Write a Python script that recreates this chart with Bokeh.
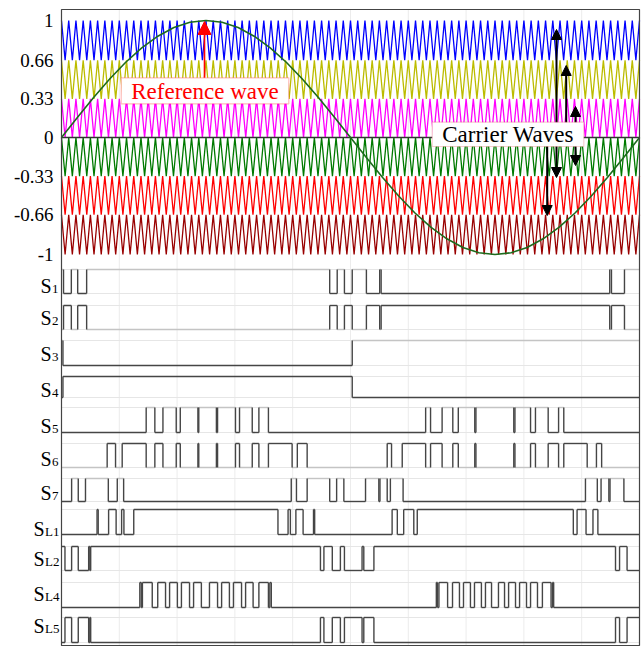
from bokeh.plotting import figure
from bokeh.models import Range1d, Label, Arrow, NormalHead, BoxAnnotation
from bokeh.core.properties import value
from bokeh.embed import file_html
from bokeh.resources import INLINE

# ---------------- data ----------------
period_ms = 20.0
carrier_periods = 80
carrier_bands = [(0.66, 1.0), (0.33, 0.66), (0.0, 0.33),
                 (-0.33, 0.0), (-0.66, -0.33), (-1.0, -0.66)]
carrier_colors = ["#0000ff", "#bcbc00", "#ff00ff", "#007a00", "#ff0000", "#990000"]

ref_deg = list(range(0, 361, 10))
ref_values = [0.0, 0.174, 0.342, 0.5, 0.643, 0.766, 0.866, 0.940, 0.985, 1.0,
              0.985, 0.940, 0.866, 0.766, 0.643, 0.5, 0.342, 0.174, 0.0,
              -0.174, -0.342, -0.5, -0.643, -0.766, -0.866, -0.940, -0.985, -1.0,
              -0.985, -0.940, -0.866, -0.766, -0.643, -0.5, -0.342, -0.174, 0.0]

y_ticks = [1, 0.66, 0.33, 0, -0.33, -0.66, -1]
y_tick_labels = ["1", "0.66", "0.33", "0", "-0.33", "-0.66", "-1"]
grid_ticks = [2, 4, 6, 8, 10, 12, 14, 16, 18]

# switching signals: initial state and switching instants (ms)
s1_init = 1
s1_edges = [0.07, 0.34, 0.56, 0.87, 9.28, 9.54, 9.79, 10.06, 10.55, 11.01, 11.06,
            18.97, 19.03, 19.48]
s2_init = 0
s2_edges = [0.07, 0.34, 0.56, 0.87, 9.28, 9.54, 9.79, 10.06, 10.55, 11.01, 11.06,
            18.97, 19.03, 19.48]
s3_init = 1
s3_edges = [0.05, 10.06]
s4_init = 0
s4_edges = [0.05, 10.06]
s5_init = 0
s5_edges = [2.93, 3.23, 3.51, 3.97, 4.11, 4.72, 4.75, 5.36, 5.40, 6.02, 6.16, 6.60, 6.83, 7.16,
            12.60, 12.77, 13.17, 13.54, 13.73, 14.30, 14.34, 15.65, 15.69, 16.23, 16.40,
            16.84, 17.20, 17.38]
s6_init = 0
s6_edges = [1.58, 1.87, 2.10, 2.93, 3.23, 3.51, 3.97, 4.11, 4.72, 4.75, 5.36, 5.40, 6.02,
            6.16, 6.60, 6.83, 7.16, 7.98, 8.16, 8.50,
            11.27, 11.42, 11.79, 12.60, 12.77, 13.17, 13.54, 13.73, 14.30, 14.34, 15.65,
            15.69, 16.23, 16.40, 16.84, 17.20, 17.38, 18.19, 18.51, 18.69]
s7_init = 0
s7_edges = [0.35, 0.58, 0.83, 1.62, 1.93, 2.15, 7.95, 8.13, 8.50, 9.28, 9.52, 9.77, 10.52,
            10.98, 11.02, 11.27, 11.38, 11.82, 18.13, 18.54, 18.67, 18.94, 18.98, 19.46]
sl1_init = 0
sl1_edges = [1.23, 1.27, 1.63, 1.89, 2.08, 2.16, 2.50, 7.49, 7.84, 7.92, 8.11, 8.36, 8.72,
             8.76, 11.44, 11.62, 11.84, 12.19, 12.31, 17.71, 17.84, 18.15, 18.39, 18.56]
sl2_init = 1
sl2_edges = [0.12, 0.35, 0.58, 0.94, 0.98, 1.01, 8.96, 9.08, 9.37, 9.65, 9.79, 10.40, 10.46,
             10.81, 19.17, 19.31, 19.57]
sl4_init = 0
sl4_edges = [2.71, 2.76, 2.80, 3.14, 3.33, 3.60, 3.74, 4.01, 4.15, 4.43, 4.57, 4.84, 5.12,
             5.40, 5.54, 5.81, 5.95, 6.23, 6.37, 6.63, 6.83, 7.16, 7.21, 7.26,
             12.97, 13.01, 13.06, 13.36, 13.53, 13.77, 13.91, 14.15, 14.29, 14.53, 14.67,
             14.88, 15.12, 15.33, 15.47, 15.71, 15.85, 16.09, 16.23, 16.47, 16.64, 16.94,
             16.99, 17.03]
sl5_init = 0
sl5_edges = [0.12, 0.35, 0.58, 0.94, 0.98, 1.01, 8.96, 9.08, 9.37, 9.65, 9.79, 10.40, 10.46,
             10.81, 19.17, 19.31, 19.57]

signal_main = ["S"] * 11
signal_sub = ["1", "2", "3", "4", "5", "6", "7", "L1", "L2", "L4", "L5"]
signals = [(s1_init, s1_edges), (s2_init, s2_edges), (s3_init, s3_edges), (s4_init, s4_edges),
           (s5_init, s5_edges), (s6_init, s6_edges), (s7_init, s7_edges),
           (sl1_init, sl1_edges), (sl2_init, sl2_edges), (sl4_init, sl4_edges),
           (sl5_init, sl5_edges)]

# ---------------- layout / style ----------------
W, H = 643, 646
FL, FR, FT, FB = 61, 639, 9, 645          # box edges in pixels
Y0_PX, Y_SCALE = 137.0, 117.0             # pixel row of value 0, pixels per unit

def vy(py):
    return (Y0_PX - py) / Y_SCALE

def tx(px):
    return (px - FL) * period_ms / (FR - FL)

row_high_px = [269, 305, 340, 376, 407, 443, 478, 509, 546, 582, 617]
row_low_px = [293, 329, 365, 397, 432, 467, 501, 534, 570, 607, 642]
light_high = [True, False, True, False, True, False, True, False, False, False, False]
light_low = [False, True, False, False, False, True, False, False, False, False, False]
label_base_px = [285, 317, 353, 389, 425, 458, 492, 528, 558, 593, 625]
label_left_px = [40, 40, 40, 40, 40, 40, 40, 33, 33, 33, 33]

FONT = "Liberation Serif"
DARK = "#454545"
LIGHT = "#c4c4c4"

p = figure(width=W, height=H, output_backend="svg", toolbar_location=None,
           x_range=Range1d(tx(0), tx(W)), y_range=Range1d(vy(H), vy(0)),
           x_axis_location=None, y_axis_location=None, min_border=0)
p.outline_line_color = None
p.background_fill_color = "white"
p.border_fill_color = "white"
p.xgrid.visible = False
p.ygrid.visible = False

x_left, x_right = tx(FL), tx(FR)
y_top, y_bot = vy(FT), vy(FB)

# faint vertical grid
p.segment(x0=grid_ticks, x1=grid_ticks, y0=[y_bot] * len(grid_ticks),
          y1=[y_top] * len(grid_ticks), line_color="#ececec", line_width=1)

# faint row boundaries
sep_y = [vy(v) for v in row_high_px + row_low_px]
p.segment(x0=[x_left] * len(sep_y), x1=[x_right] * len(sep_y), y0=sep_y, y1=sep_y,
          line_color="#e6e6e6", line_width=1)

# carriers (triangles between band limits)
n_vert = 2 * carrier_periods + 1
tv = [period_ms * k / (2 * carrier_periods) for k in range(n_vert)]
for (lo, hi), col in zip(carrier_bands, carrier_colors):
    yv = [hi if k % 2 == 0 else lo for k in range(n_vert)]
    p.line(tv, yv, line_color=col, line_width=1.3)

p.line([0, period_ms], [0, 0], line_color="#333333", line_width=1.3)

# reference wave
ref_t = [d / 360.0 * period_ms for d in ref_deg]
p.line(ref_t, ref_values, line_color="#1d6b1d", line_width=1.6)

# carrier value tick labels
p.text(x=[tx(53)] * len(y_ticks), y=y_ticks, text=y_tick_labels, text_font=value(FONT),
       text_font_size=value("19px"), text_color="black", text_align="right",
       text_baseline="middle")

# switching signals
hx0, hx1, hy, hc = [], [], [], []
vx, vy0, vy1 = [], [], []
for i, (init, edges) in enumerate(signals):
    yh, yl = vy(row_high_px[i]), vy(row_low_px[i])
    times = [0.0] + list(edges) + [period_ms]
    state = init
    for k in range(len(times) - 1):
        yy = yh if state else yl
        lt = light_high[i] if state else light_low[i]
        hx0.append(times[k]); hx1.append(times[k + 1]); hy.append(yy)
        hc.append(LIGHT if lt else DARK)
        if k < len(edges):
            vx.append(times[k + 1]); vy0.append(yl); vy1.append(yh)
            state = 1 - state
p.segment(x0=hx0, x1=hx1, y0=hy, y1=hy, line_color=hc, line_width=1.4)
p.segment(x0=vx, x1=vx, y0=vy0, y1=vy1, line_color=DARK, line_width=1.4)

# signal names with subscripts
p.text(x=[tx(v) for v in label_left_px], y=[vy(v) for v in label_base_px], text=signal_main,
       text_font=value(FONT), text_font_size=value("20px"), text_color="black",
       text_align="left", text_baseline="alphabetic")
p.text(x=[tx(v + 11.5) for v in label_left_px], y=[vy(v + 3) for v in label_base_px],
       text=signal_sub, text_font=value(FONT), text_font_size=value("13px"),
       text_color="black", text_align="left", text_baseline="alphabetic")

# outer box
p.quad(left=[x_left], right=[x_right], top=[y_top], bottom=[y_bot], fill_color=None,
       line_color="#444444", line_width=1.2)

# arrows to the carriers
def head():
    return NormalHead(size=10, fill_color="black", line_color="black")

p.add_layout(Arrow(start=head(), end=head(), x_start=tx(556), y_start=vy(177),
                   x_end=tx(556), y_end=vy(29), line_width=2, line_color="black"))
p.add_layout(Arrow(end=head(), x_start=tx(565.7), y_start=vy(125),
                   x_end=tx(565.7), y_end=vy(65), line_width=2, line_color="black"))
p.add_layout(Arrow(start=head(), end=head(), x_start=tx(575), y_start=vy(165),
                   x_end=tx(575), y_end=vy(106), line_width=2, line_color="black"))
p.add_layout(Arrow(end=head(), x_start=tx(546.7), y_start=vy(143),
                   x_end=tx(546.7), y_end=vy(215), line_width=2, line_color="black"))

# reference-wave arrow
p.add_layout(Arrow(end=NormalHead(size=13, fill_color="#ff0000", line_color="#ff0000"),
                   x_start=tx(204), y_start=vy(78), x_end=tx(204), y_end=vy(21),
                   line_width=1.6, line_color="#ff0000"))

# text boxes
p.add_layout(BoxAnnotation(left=tx(120.7), right=tx(288.3), top=vy(77.3), bottom=vy(103.3),
                           fill_color="white", fill_alpha=1.0, line_color="#ff2020",
                           line_width=1.2))
p.add_layout(Label(x=tx(204.5), y=vy(90.5), text="Reference wave", text_font=FONT,
                   text_font_size="23px", text_color="#ff0000", text_align="center",
                   text_baseline="middle"))
p.add_layout(BoxAnnotation(left=tx(431.7), right=tx(583.3), top=vy(121.7), bottom=vy(146),
                           fill_color="white", fill_alpha=1.0, line_color="#e06060",
                           line_width=1.2))
p.add_layout(Label(x=tx(507.5), y=vy(134), text="Carrier Waves", text_font=FONT,
                   text_font_size="23px", text_color="black", text_align="center",
                   text_baseline="middle"))

open("out.html", "w").write(file_html(p, INLINE))
